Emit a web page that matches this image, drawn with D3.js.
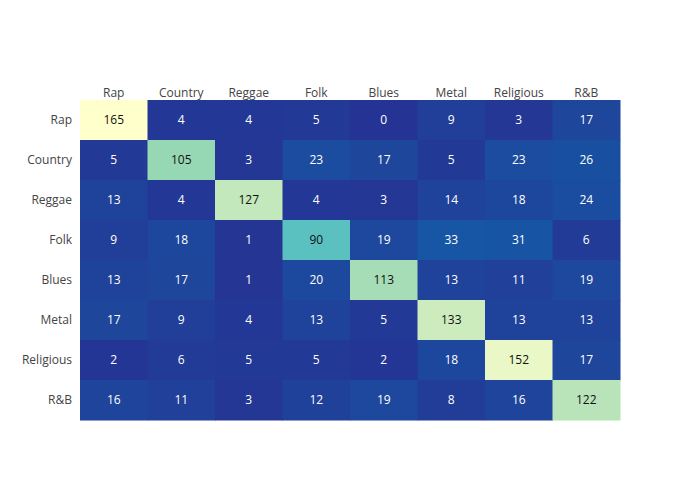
<!DOCTYPE html>
<html>
<head>
<meta charset="utf-8">
<script src="https://cdn.jsdelivr.net/npm/d3@7"></script>
<style>
  body { margin: 0; background: #fff; }
  text { font-family: "Open Sans", sans-serif; }
</style>
</head>
<body>
<div id="chart"></div>
<script>
const width = 700;
const height = 500;
const margin = { top: 100, right: 80, bottom: 80, left: 80 };

// genres, used for both axes
const genres = ["Rap", "Country", "Reggae", "Folk", "Blues", "Metal", "Religious", "R&B"];

// one row per actual genre (y), one value per predicted genre (x)
const rowRap       = [165, 4, 4, 5, 0, 9, 3, 17];
const rowCountry   = [5, 105, 3, 23, 17, 5, 23, 26];
const rowReggae    = [13, 4, 127, 4, 3, 14, 18, 24];
const rowFolk      = [9, 18, 1, 90, 19, 33, 31, 6];
const rowBlues     = [13, 17, 1, 20, 113, 13, 11, 19];
const rowMetal     = [17, 9, 4, 13, 5, 133, 13, 13];
const rowReligious = [2, 6, 5, 5, 2, 18, 152, 17];
const rowRnB       = [16, 11, 3, 12, 19, 8, 16, 122];

const rows = [rowRap, rowCountry, rowReggae, rowFolk, rowBlues, rowMetal, rowReligious, rowRnB];

const cells = [];
rows.forEach((r, i) => {
    r.forEach((v, j) => {
        cells.push({ y: genres[i], x: genres[j], value: v });
    });
});

const svg = d3.select("#chart")
    .append("svg")
    .attr("width", width)
    .attr("height", height);

const x = d3.scaleBand()
    .domain(genres)
    .range([margin.left, width - margin.right]);

const y = d3.scaleBand()
    .domain(genres)
    .range([margin.top, height - margin.bottom]);

const zMax = d3.max(cells, d => d.value);

// yellow-green-blue scale, blue at the low end
const colorStops = [0, 0.1, 0.2, 0.42, 0.545, 0.636, 0.74, 0.806, 0.92, 1];
const colorValues = ["#253494", "#1e469b", "#1656a5", "#1f90be", "#5ac0c0",
    "#96d7b4", "#b9e4b9", "#cdecbe", "#eaf8c8", "#ffffcc"];

const color = d3.scaleLinear()
    .domain(colorStops.map(t => t * zMax))
    .range(colorValues)
    .interpolate(d3.interpolateRgb);

const g = svg.append("g");

g.selectAll("rect")
    .data(cells)
    .enter()
    .append("rect")
    .attr("x", d => x(d.x))
    .attr("y", d => y(d.y))
    .attr("width", x.bandwidth() + 0.5)
    .attr("height", y.bandwidth() + 0.5)
    .attr("fill", d => color(d.value));

g.selectAll("text.val")
    .data(cells)
    .enter()
    .append("text")
    .attr("class", "val")
    .attr("x", d => x(d.x) + x.bandwidth() / 2)
    .attr("y", d => y(d.y) + y.bandwidth() / 2)
    .attr("dy", "0.35em")
    .attr("text-anchor", "middle")
    .style("font-size", "12px")
    .attr("fill", d => d.value > zMax / 2 ? "#111" : "#fff")
    .text(d => d.value);

const xAxis = svg.append("g")
    .attr("transform", `translate(0,${margin.top})`)
    .call(d3.axisTop(x).tickSize(0).tickPadding(3));

const yAxis = svg.append("g")
    .attr("transform", `translate(${margin.left},0)`)
    .call(d3.axisLeft(y).tickSize(0).tickPadding(8));

[xAxis, yAxis].forEach(a => {
    a.select(".domain").remove();
    a.selectAll("text")
        .style("font-family", "'Open Sans', sans-serif")
        .style("font-size", "12px")
        .attr("fill", "#444");
});
</script>
</body>
</html>
